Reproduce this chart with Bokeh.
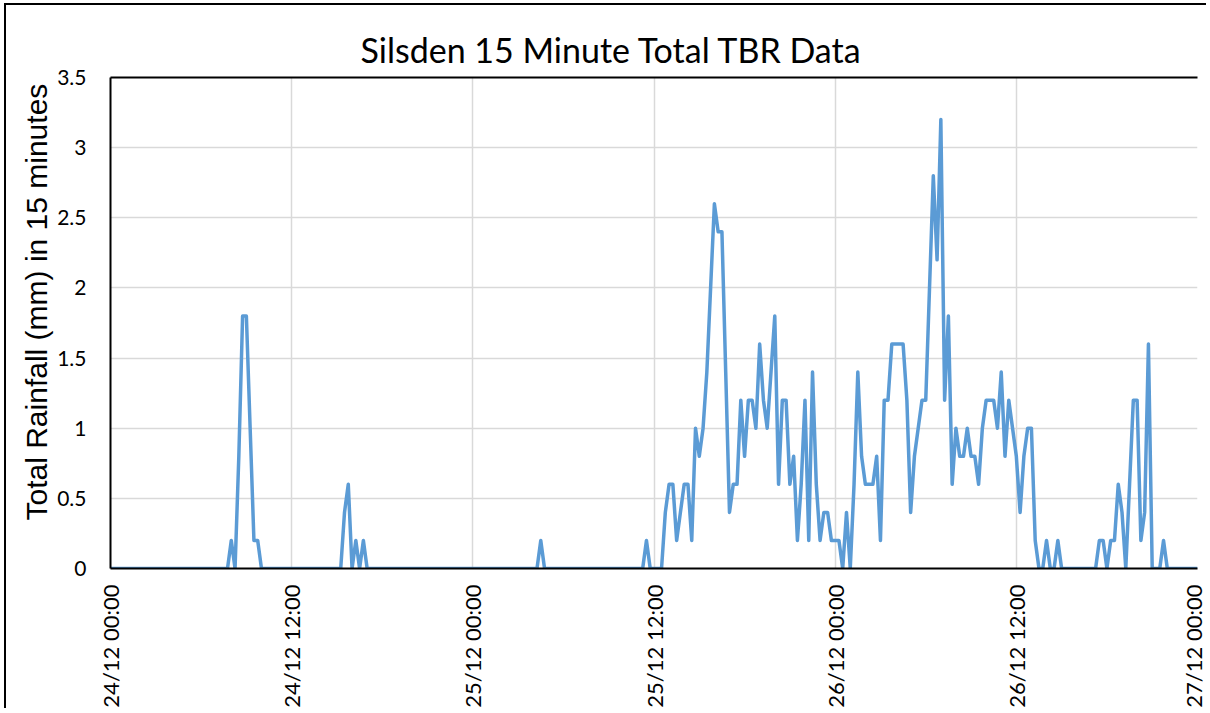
import math
import pandas as pd
from bokeh.plotting import figure
from bokeh.models import Range1d, FixedTicker, LinearAxis, Title
from bokeh.embed import file_html
from bokeh.resources import INLINE

# ---- data -------------------------------------------------------------
start_time = "2015-12-24 00:00"
interval = "15min"
rainfall_mm = [
    0, 0, 0, 0, 0, 0, 0, 0, 0, 0, 0, 0,
    0, 0, 0, 0, 0, 0, 0, 0, 0, 0, 0, 0,
    0, 0, 0, 0, 0, 0, 0, 0, 0.2, 0, 0.8, 1.8,
    1.8, 1.0, 0.2, 0.2, 0, 0, 0, 0, 0, 0, 0, 0,
    0, 0, 0, 0, 0, 0, 0, 0, 0, 0, 0, 0,
    0, 0, 0.4, 0.6, 0, 0.2, 0, 0.2, 0, 0, 0, 0,
    0, 0, 0, 0, 0, 0, 0, 0, 0, 0, 0, 0,
    0, 0, 0, 0, 0, 0, 0, 0, 0, 0, 0, 0,
    0, 0, 0, 0, 0, 0, 0, 0, 0, 0, 0, 0,
    0, 0, 0, 0, 0, 0, 0.2, 0, 0, 0, 0, 0,
    0, 0, 0, 0, 0, 0, 0, 0, 0, 0, 0, 0,
    0, 0, 0, 0, 0, 0, 0, 0, 0, 0, 0.2, 0,
    0, 0, 0, 0.4, 0.6, 0.6, 0.2, 0.4, 0.6, 0.6, 0.2, 1.0,
    0.8, 1.0, 1.4, 2.0, 2.6, 2.4, 2.4, 1.4, 0.4, 0.6, 0.6, 1.2,
    0.8, 1.2, 1.2, 1.0, 1.6, 1.2, 1.0, 1.4, 1.8, 0.6, 1.2, 1.2,
    0.6, 0.8, 0.2, 0.6, 1.2, 0.2, 1.4, 0.6, 0.2, 0.4, 0.4, 0.2,
    0.2, 0.2, 0, 0.4, 0, 0.6, 1.4, 0.8, 0.6, 0.6, 0.6, 0.8,
    0.2, 1.2, 1.2, 1.6, 1.6, 1.6, 1.6, 1.2, 0.4, 0.8, 1.0, 1.2,
    1.2, 2.0, 2.8, 2.2, 3.2, 1.2, 1.8, 0.6, 1.0, 0.8, 0.8, 1.0,
    0.8, 0.8, 0.6, 1.0, 1.2, 1.2, 1.2, 1.0, 1.4, 0.8, 1.2, 1.0,
    0.8, 0.4, 0.8, 1.0, 1.0, 0.2, 0, 0, 0.2, 0, 0, 0.2,
    0, 0, 0, 0, 0, 0, 0, 0, 0, 0, 0.2, 0.2,
    0, 0.2, 0.2, 0.6, 0.4, 0, 0.6, 1.2, 1.2, 0.2, 0.4, 1.6,
    0, 0, 0, 0.2, 0, 0, 0, 0, 0, 0, 0, 0,
    0,
]
x_tick_times = ["2015-12-24 00:00", "2015-12-24 12:00", "2015-12-25 00:00",
                "2015-12-25 12:00", "2015-12-26 00:00", "2015-12-26 12:00",
                "2015-12-27 00:00"]
x_tick_labels = ["24/12 00:00", "24/12 12:00", "25/12 00:00", "25/12 12:00",
                 "26/12 00:00", "26/12 12:00", "27/12 00:00"]
y_ticks = [0, 0.5, 1, 1.5, 2, 2.5, 3, 3.5]
y_tick_labels = ["0", "0.5", "1", "1.5", "2", "2.5", "3", "3.5"]
title_text = "Silsden 15 Minute Total TBR Data"
y_label = "Total Rainfall (mm) in 15 minutes"

# ---- chart ------------------------------------------------------------
times = pd.date_range(start_time, periods=len(rainfall_mm), freq=interval)
x_ticks_ms = [pd.Timestamp(t).value / 1e6 for t in x_tick_times]

p = figure(width=1202, height=705, x_axis_type="datetime",
           output_backend="svg", toolbar_location=None,
           x_range=Range1d(times[0], times[-1]), y_range=Range1d(0, 3.5),
           min_border_left=104, min_border_right=11,
           min_border_top=72, min_border_bottom=138,
           title=title_text)
p.styles = {"margin-left": "4px", "margin-top": "3px",
            "border-top": "2px solid black", "border-left": "2px solid black"}
p.outline_line_color = None
p.background_fill_color = "white"
p.border_fill_color = "white"

p.title.text_font = "Lato"
p.title.text_font_size = "34px"
p.title.text_font_style = "normal"
p.title.text_color = "black"
p.title.align = "left"
p.title.offset = 250
p.title.standoff = 16

p.line(times, rainfall_mm, line_color="#5b9bd5", line_width=3.5,
       line_join="round")

# axes
xa = p.xaxis[0]
xa.ticker = FixedTicker(ticks=x_ticks_ms)
xa.major_label_overrides = dict(zip(x_ticks_ms, x_tick_labels))
xa.major_label_orientation = math.pi / 2
xa.major_label_text_font = "Lato"
xa.major_label_text_font_size = "22px"
xa.major_label_text_color = "black"
xa.major_label_standoff = 10
xa.major_tick_line_color = None
xa.minor_tick_line_color = None
xa.axis_line_color = "black"
xa.axis_line_width = 2

ya = p.yaxis[0]
ya.ticker = FixedTicker(ticks=y_ticks)
ya.major_label_overrides = dict(zip(y_ticks, y_tick_labels))
ya.major_label_text_font = "Lato"
ya.major_label_text_font_size = "21px"
ya.major_label_text_color = "black"
ya.major_label_standoff = 18
ya.major_tick_line_color = None
ya.minor_tick_line_color = None
ya.axis_line_color = "black"
ya.axis_line_width = 2

# y-axis title as a side title (lets it sit a little above the frame centre)
p.add_layout(Title(text=y_label, align="left", offset=48, standoff=4,
                   text_font="Liberation Sans", text_font_size="30px",
                   text_font_style="normal", text_color="black"), "left")

top_axis = LinearAxis(ticker=FixedTicker(ticks=[]), axis_line_color="black",
                      axis_line_width=2, major_tick_line_color=None,
                      minor_tick_line_color=None,
                      major_label_text_font_size="0px")
p.add_layout(top_axis, "above")

p.xgrid.grid_line_color = "#d9d9d9"
p.xgrid.grid_line_width = 1.5
p.ygrid.grid_line_color = "#d9d9d9"
p.ygrid.grid_line_width = 1.5

open("out.html", "w").write(file_html(p, INLINE))
